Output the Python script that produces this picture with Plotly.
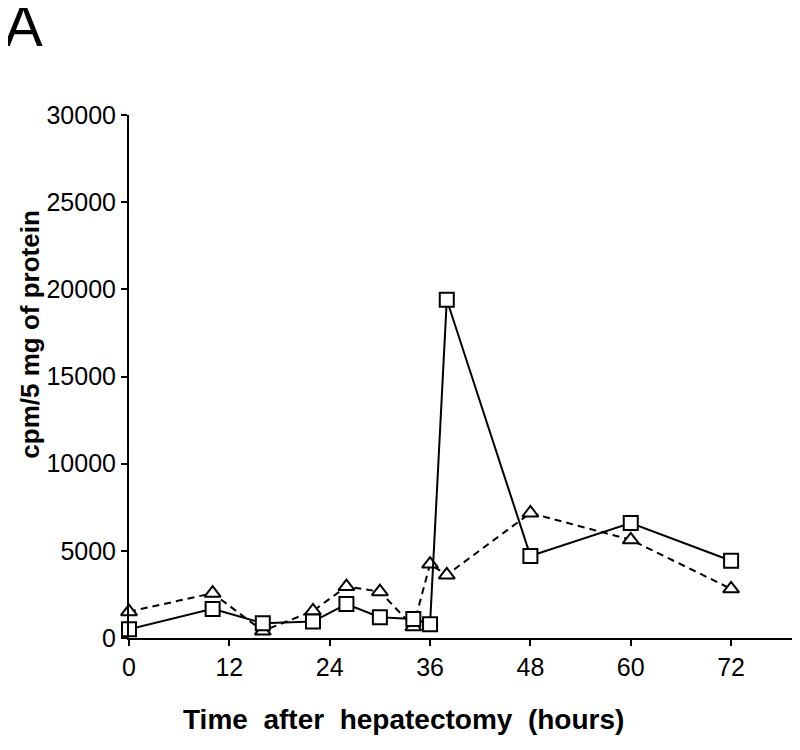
import plotly.graph_objects as go

hours_sq = [0, 10, 16, 22, 26, 30, 34, 36, 38, 48, 60, 72]
cpm_sq = [500, 1670, 850, 940, 1950, 1190, 1090, 790, 19400, 4710, 6590, 4430]

hours_tri = [0, 10, 16, 22, 26, 30, 34, 36, 38, 48, 60, 72]
cpm_tri = [1510, 2570, 400, 1550, 2950, 2660, 650, 4240, 3620, 7170, 5630, 2820]

x_ticks = [0, 12, 24, 36, 48, 60, 72]
y_ticks = [0, 5000, 10000, 15000, 20000, 25000, 30000]

FONT = "Liberation Sans, Arial, Helvetica, sans-serif"

fig = go.Figure()
fig.add_trace(go.Scatter(
    x=hours_tri, y=cpm_tri, mode="lines+markers",
    line=dict(color="black", width=2, dash="7px,5px"),
    marker=dict(symbol="triangle-up", size=14, color="white",
                line=dict(color="black", width=2)),
    cliponaxis=False, showlegend=False))
fig.add_trace(go.Scatter(
    x=hours_sq, y=cpm_sq, mode="lines+markers",
    line=dict(color="black", width=2),
    marker=dict(symbol="square", size=14, color="white",
                line=dict(color="black", width=2)),
    cliponaxis=False, showlegend=False))

fig.update_layout(
    width=800, height=750,
    margin=dict(l=121, r=10, t=107, b=120),
    paper_bgcolor="white", plot_bgcolor="white",
    font=dict(family=FONT, color="black", size=25),
    xaxis=dict(range=[0, 80], tickvals=x_ticks, ticktext=[str(v) for v in x_ticks],
               showgrid=False, zeroline=False, showline=True, linecolor="black",
               linewidth=2, ticks="outside", ticklen=6, tickwidth=1.5,
               tickcolor="black", tickfont=dict(size=25), automargin=False),
    yaxis=dict(range=[0, 30000], tickvals=y_ticks, ticktext=[str(v) for v in y_ticks],
               showgrid=False, zeroline=False, showline=True, linecolor="black",
               linewidth=2, ticks="outside", ticklen=6, tickwidth=1.5,
               tickcolor="black", tickfont=dict(size=25), automargin=False),
    annotations=[
        dict(text="A", xref="paper", yref="paper", x=-0.19, y=1.172,
             xanchor="left", yanchor="middle", showarrow=False,
             font=dict(size=58, family=FONT, color="black")),
        dict(text="<b>Time  after  hepatectomy  (hours)</b>", xref="paper", yref="paper",
             x=0.41, y=-0.155, xanchor="center", yanchor="middle", showarrow=False,
             font=dict(size=28, family=FONT, color="black")),
        dict(text="<b>cpm/5 mg of protein</b>", xref="paper", yref="paper",
             x=-0.148, y=0.58, xanchor="center", yanchor="middle", showarrow=False,
             textangle=-90, font=dict(size=26, family=FONT, color="black")),
    ],
)

fig.write_html("out.html")
